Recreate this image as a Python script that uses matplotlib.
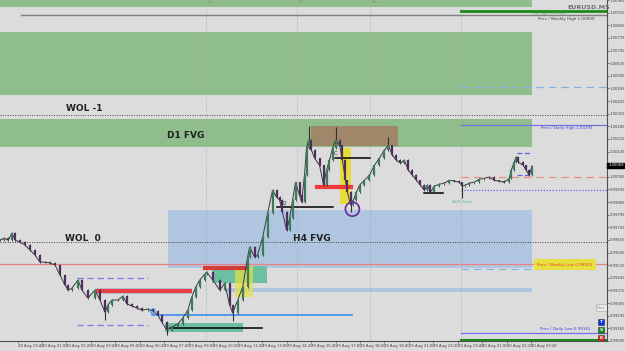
import numpy as np
import matplotlib.pyplot as plt
from matplotlib.patches import Rectangle, Ellipse

# Price path (hours since 29 Aug 00:00, close price)
t = [-1.29, -1.07, -0.85, -0.63, -0.47, -0.20, 0.07, 0.35, 0.62, 0.89, 1.16, 1.44, 1.71,
     1.98, 2.25, 2.42, 2.63, 2.96, 3.18, 3.50, 3.88, 4.16, 4.43, 4.59, 4.81, 5.14, 5.41,
     5.63, 5.90, 6.17, 6.44, 6.77, 7.04, 7.31, 7.53, 7.80, 8.07, 8.40, 8.67, 8.95, 9.16,
     9.38, 9.60, 9.87, 9.98, 10.31, 10.69, 10.96, 11.23, 11.39, 11.67, 11.94, 12.21, 12.32,
     12.59, 12.75, 13.03, 13.30, 13.57, 13.79, 13.95, 14.11, 14.33, 14.50, 14.66, 14.82,
     15.04, 15.15, 15.31, 15.42, 15.53, 15.69, 15.86, 16.13, 16.35, 16.51, 16.67, 16.84,
     17.00, 17.22, 17.38, 17.54, 17.65, 17.82, 17.98, 18.14, 18.31, 18.58, 18.85, 19.12,
     19.39, 19.67, 19.88, 20.10, 20.32, 20.54, 20.75, 20.97, 21.19, 21.41, 21.63, 21.84,
     22.01, 22.17, 22.39, 22.66, 22.93, 23.20, 23.48, 23.75, 23.91, 24.07, 24.29, 24.56,
     24.84, 25.11, 25.38, 25.65, 25.92, 26.20, 26.47, 26.58, 26.74, 26.85, 26.97, 27.23,
     27.39, 27.56, 27.72]
close = [0.99654, 0.99665, 0.99654, 0.99693, 0.99654, 0.99643, 0.99627, 0.99599, 0.99571,
         0.99532, 0.99532, 0.99527, 0.99516, 0.99460, 0.99405, 0.99377, 0.99388, 0.99433,
         0.99377, 0.99333, 0.99377, 0.99322, 0.99255, 0.99294, 0.99322, 0.99322, 0.99344,
         0.99300, 0.99289, 0.99278, 0.99266, 0.99272, 0.99261, 0.99239, 0.99200, 0.99156,
         0.99172, 0.99189, 0.99222, 0.99266, 0.99338, 0.99394, 0.99433, 0.99466, 0.99477,
         0.99433, 0.99377, 0.99416, 0.99294, 0.99250, 0.99322, 0.99394, 0.99560, 0.99615,
         0.99560, 0.99571, 0.99671, 0.99804, 0.99931, 0.99892, 0.99876, 0.99809, 0.99710,
         0.99776, 0.99876, 0.99975, 0.99903, 0.99865, 1.00014, 1.00164, 1.00208, 1.00153,
         1.00108, 1.00069, 0.99959, 1.00042, 1.00097, 1.00164, 1.00208, 1.00180, 1.00097,
         0.99986, 0.99920, 0.99848, 0.99876, 0.99920, 0.99959, 0.99986, 1.00014, 1.00069,
         1.00108, 1.00153, 1.00180, 1.00125, 1.00097, 1.00081, 1.00097, 1.00042, 1.00014,
         0.99986, 0.99959, 0.99931, 0.99959, 0.99920, 0.99953, 0.99964, 0.99970, 0.99986,
         0.99981, 0.99975, 0.99953, 0.99959, 0.99970, 0.99975, 0.99992, 0.99997, 1.00003,
         0.99986, 0.99981, 0.99975, 0.99997, 1.00042, 1.00086, 1.00114, 1.00086, 1.00069,
         1.00042, 1.00014, 1.00064]

# Notable wicks
wick_t = [4.43, 7.80, 11.39, 15.53, 17.00, 17.82, 19.88, 23.91]
wick_hi = [0.99255, 0.99156, 0.99250, 1.00285, 1.00280, 0.99848, 1.00224, 0.99953]
wick_lo = [0.99211, 0.99128, 0.99206, 1.00208, 1.00208, 0.99809, 1.00180, 0.99887]

# Zones (t0, t1, p0, p1)
green_zones = [(-1.29, 27.72, 1.00946, 1.00990), (-1.29, 27.72, 1.00457, 1.00806),
               (-1.29, 27.72, 1.00172, 1.00327)]
blue_zones = [(7.86, 27.72, 0.99499, 0.99820), (11.07, 27.72, 0.99368, 0.99387),
              (3.88, 9.16, 0.99355, 0.99388)]

# Levels
pwh_green = 1.00926
prev_weekly_high = 1.00900
prev_daily_high = 1.00291
prev_weekly_low = 0.99523
prev_daily_low = 0.99141
wol_m1 = 1.00350
wol_0 = 0.99641
dash_blue_hi = 1.00501
dash_blue_lo = 0.99494
adr_level = 1.00003
adr_dot = 0.99931
current = 1.00069
day_lines = [9.92, 14.88, 18.90, 23.86]

# Axes ticks
time_labels = ['28 Aug 23:40', '29 Aug 01:00', '29 Aug 02:20', '29 Aug 03:40', '29 Aug 05:00',
               '29 Aug 06:20', '29 Aug 07:40', '29 Aug 09:00', '29 Aug 10:20', '29 Aug 11:40',
               '29 Aug 13:00', '29 Aug 14:20', '29 Aug 15:40', '29 Aug 17:00', '29 Aug 18:20',
               '29 Aug 19:40', '29 Aug 21:00', '29 Aug 22:20', '29 Aug 23:40', '30 Aug 01:00',
               '30 Aug 02:20', '30 Aug 03:40']
time_ticks = [-1/3 + 4/3 * i for i in range(len(time_labels))]
price_ticks = np.arange(0.99095, 1.0099, 0.0007)

bg = '#DCDCDC'
fig = plt.figure(figsize=(6.25, 3.51), dpi=100, facecolor=bg)
ax = fig.add_axes([0, 10/351, 607/625, 341/351], facecolor=bg)
ax.set_xlim(-1.29, 31.80)
ax.set_ylim(0.99095, 1.00983)
xr = ax.get_xlim()

for t0, t1, p0, p1 in green_zones:
    ax.add_patch(Rectangle((t0, p0), t1 - t0, p1 - p0, color='#8FBE8C', lw=0, zorder=1))
for t0, t1, p0, p1 in blue_zones:
    ax.add_patch(Rectangle((t0, p0), t1 - t0, p1 - p0, color='#B0C6E0', lw=0, zorder=1))

# Boxes
ax.add_patch(Rectangle((15.69, 1.00175), 4.74, 0.00110, color='#A0876A', lw=0, zorder=2))
ax.add_patch(Rectangle((17.22, 0.99853), 0.65, 0.00311, color='#E6DC3C', lw=0, zorder=2))
ax.add_patch(Rectangle((7.69, 0.99145), 4.25, 0.00050, color='#6CBFA0', lw=0, zorder=2))
ax.add_patch(Rectangle((10.25, 0.99416), 2.99, 0.00094, color='#6CBFA0', lw=0, zorder=2))
ax.add_patch(Rectangle((11.50, 0.99338), 0.98, 0.00172, color='#E6E040', alpha=0.7, lw=0, zorder=2))

# Vertical separators
for d in day_lines:
    ax.axvline(d, color='#A8A8A8', lw=0.6, ls=':', zorder=1)

# Full width lines
ax.axhline(wol_m1, color='#404040', lw=0.7, ls=(0, (1, 1.5)), zorder=2)
ax.axhline(wol_0, color='#404040', lw=0.7, ls=(0, (1, 1.5)), zorder=2)
ax.axhline(prev_weekly_low, color='#E88080', lw=0.9, zorder=2)
ax.plot([-0.14, xr[1]], [prev_weekly_high] * 2, color='#808080', lw=1, zorder=2)

# Right side levels
ax.plot([23.86, xr[1]], [pwh_green] * 2, color='#1A8A1A', lw=2, zorder=3)
ax.plot([23.86, xr[1]], [dash_blue_hi] * 2, color='#80B0E0', lw=0.9, ls=(0, (6, 4)), zorder=2)
ax.plot([23.86, xr[1]], [prev_daily_high] * 2, color='#7070E0', lw=0.9, zorder=2)
ax.plot([23.86, xr[1]], [adr_level] * 2, color='#E8907A', lw=0.9, ls=(0, (6, 4)), zorder=2)
ax.plot([23.86, xr[1]], [adr_dot] * 2, color='#5050F0', lw=0.8, ls=':', zorder=2)
ax.plot([23.86, 31.20], [dash_blue_lo] * 2, color='#7FB8E8', lw=0.9, ls=(0, (6, 4)), zorder=2)
ax.plot([23.86, xr[1]], [prev_daily_low] * 2, color='#7070F0', lw=0.9, zorder=2)
ax.plot([23.86, xr[1]], [0.99100] * 2, color='#1A8A1A', lw=2.2, zorder=3)

# Dashed range lines lower left
ax.plot([2.90, 6.77], [0.99444] * 2, color='#7A7AE8', lw=0.9, ls=(0, (5, 3)), zorder=2)
ax.plot([2.90, 6.77], [0.99184] * 2, color='#7A7AE8', lw=0.9, ls=(0, (5, 3)), zorder=2)

# Structure lines
ax.plot([4.05, 9.05], [0.99372] * 2, color='#E84040', lw=3, zorder=3)
ax.plot([9.87, 12.16], [0.99499] * 2, color='#D83A3A', lw=3, zorder=3)
ax.plot([15.97, 17.82], [0.99948] * 2, color='#F03A3A', lw=3, zorder=3)
ax.plot([6.99, 17.92], [0.99239] * 2, color='#3C8CF0', lw=1.2, zorder=3)
ax.plot([7.97, 12.97], [0.99167] * 2, color='black', lw=1.1, zorder=3)
ax.plot([16.95, 18.90], [1.00108] * 2, color='black', lw=1.1, zorder=3)
ax.plot([13.79, 16.89], [0.99837] * 2, color='black', lw=1.1, zorder=3)
ax.plot([21.84, 22.88], [0.99914] * 2, color='black', lw=1.1, zorder=3)
ax.plot([26.90, 27.67], [1.00136] * 2, color='#6060E0', lw=0.9, ls=(0, (4, 2)), zorder=3)
ax.plot([26.90, 27.67], [1.00014] * 2, color='#6060E0', lw=0.9, ls=(0, (4, 2)), zorder=3)

# Candles
opens = [close[0]] + close[:-1]
for i in range(len(t)):
    up = close[i] >= opens[i]
    col = '#3C7A5C' if up else '#4E2E5E'
    lo, hi = sorted([opens[i], close[i]])
    ax.vlines(t[i], lo - 0.00004, hi + 0.00004, color='#303030', lw=0.6, zorder=4)
    ax.vlines(t[i], lo, hi, color=col, lw=1.6, zorder=5)
ax.plot(t, close, color='#3A3A3A', lw=0.7, zorder=4)
ax.vlines(wick_t, wick_lo, wick_hi, color='#303030', lw=0.8, zorder=4)

ax.add_patch(Ellipse((17.92, 0.99826), 0.76, 0.00078, fill=False, ec='#7030A0', lw=1.3, zorder=6))
ax.add_patch(Ellipse((7.04, 0.99261), 0.25, 0.00025, fill=False, ec='#3C8CF0', lw=0.8, zorder=6))

# Zone labels
lab = dict(fontsize=6.5, fontweight='bold', color='#202020', va='center', zorder=7)
ax.text(2.31, 1.00385, 'WOL -1', **lab)
ax.text(2.25, 0.99665, 'WOL  0', **lab)
ax.text(7.80, 1.00236, 'D1 FVG', **lab)
ax.text(14.66, 0.99665, 'H4 FVG', **lab)
ax.text(16.90, 1.00136, 'C', fontsize=4, color='#202020', va='center', zorder=7)
ax.text(14.00, 0.99860, 'LQ', fontsize=3.5, color='#202020', va='center', zorder=7)
for x, s in zip([9.92, 14.88, 18.90], ['Lo', 'Hi', 'Lo']):
    ax.text(x + 0.1, 1.00972, s, fontsize=3, color='#808080', va='center', zorder=7)

# Right side labels
small = 3.0
ax.text(29.62, 1.00944, 'EURUSD.MS', fontsize=4.5, fontweight='bold', color='#707070', va='center', zorder=7)
ax.text(27.67, 1.00912, 'PW High 1.00926', fontsize=small, color='#2E9A2E', va='center', zorder=7)
ax.text(28.05, 1.00880, 'Prev / Weekly High 1.00899', fontsize=small, color='#404040', va='center', zorder=7)
ax.text(28.21, 1.00274, 'Prev / Daily High 1.00291', fontsize=small, color='#4040E0', va='center', zorder=7)
ax.text(23.37, 0.99865, 'ADR Start', fontsize=small, color='#60B8A0', va='center', zorder=7)
ax.add_patch(Rectangle((27.83, 0.99488), 3.37, 0.00060, color='#E8E040', lw=0, zorder=6))
ax.text(28.00, 0.99516, 'Prev / Weekly Low 0.99523', fontsize=small, color='#E04020', va='center', zorder=7)
ax.text(28.16, 0.99161, 'Prev / Daily Low 0.99141', fontsize=small, color='#4040E0', va='center', zorder=7)

# Trade buttons
ax.add_patch(Rectangle((31.20, 0.99260), 0.60, 0.00040, fc='#EAEAEA', ec='#B0B0B0', lw=0.5, zorder=6))
ax.text(31.24, 0.99280, 'Now', fontsize=2.8, color='#A0A0A0', va='center', zorder=7)
for p, s, c in zip([0.99184, 0.99140, 0.99095], ['T', 'S', 'K'], ['#1030E0', '#1A8A1A', '#E02020']):
    ax.add_patch(Rectangle((31.31, p), 0.33, 0.00033, fc=c, ec='#303030', lw=0.4, zorder=6))
    ax.text(31.475, p + 0.000165, s, fontsize=3.2, color='white', ha='center', va='center',
            fontweight='bold', zorder=7)

# Axes
for s in ['top', 'left']:
    ax.spines[s].set_visible(False)
for s in ['right', 'bottom']:
    ax.spines[s].set_color('#505050')
    ax.spines[s].set_linewidth(0.8)
ax.yaxis.tick_right()
ax.set_yticks(price_ticks)
ax.set_yticklabels([f'{v:.5f}' for v in price_ticks])
ax.set_xticks(time_ticks)
ax.set_xticklabels(time_labels, ha='left')
ax.tick_params(axis='both', labelsize=2.7, length=1.2, width=0.5, colors='#404040', pad=0.6)
ax.text(1.002, current, f'{current:.5f}', transform=ax.get_yaxis_transform(), fontsize=2.7,
        color='white', va='center', ha='left', zorder=8,
        bbox=dict(boxstyle='square,pad=0.2', fc='black', ec='black'), clip_on=False)

fig.savefig('out.png', dpi=100, facecolor=bg)
